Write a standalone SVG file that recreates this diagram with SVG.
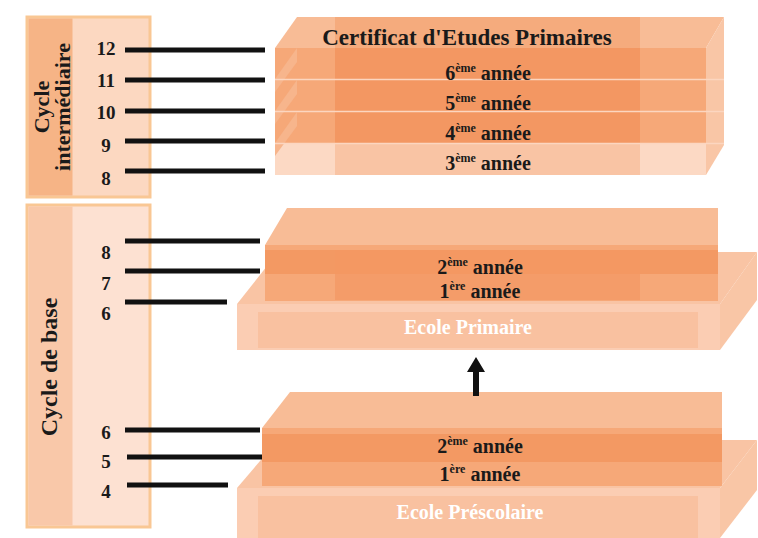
<svg xmlns="http://www.w3.org/2000/svg" width="758" height="538" viewBox="0 0 758 538">
<style>
text{font-family:"Liberation Serif","Times New Roman",serif;font-weight:bold;fill:#1a1a1a}
.num{font-size:19px;text-anchor:middle}
.yr{font-size:20px;text-anchor:middle}
.sup{font-size:12px}
.title{font-size:23px;text-anchor:middle}
.white{fill:#ffffff;font-size:20px;text-anchor:middle}
.side{font-size:22px;text-anchor:middle}
.top{fill:#f8bc96}
.front{fill:#f6a878}
.dark{fill:#f39762}
.lite{fill:#f9c4a4}
.pale{fill:#fcd9c4}
.rside{fill:#f9c6a6}
.tick{stroke:#111;stroke-width:5;fill:none}
</style>
<rect width="758" height="538" fill="#ffffff"/>

<g id="panel-intermediaire">
<rect x="27" y="17" width="123" height="180" fill="#fcd8c1" stroke="#f9c794" stroke-width="3"/>
<rect x="28.5" y="18.5" width="44" height="177" fill="#f6b486"/>
<text class="side" transform="translate(49,107) rotate(-90)">Cycle</text>
<text class="side" transform="translate(70,107) rotate(-90)">intermédiaire</text>
</g>

<g id="panel-base">
<rect x="27" y="205" width="123" height="322" fill="#fde1d2" stroke="#f9c794" stroke-width="3"/>
<rect x="28.5" y="206.5" width="44" height="319" fill="#f9c8a9"/>
<text class="side" style="font-size:24px" transform="translate(57,367) rotate(-90)">Cycle de base</text>
</g>

<g id="ages">
<text class="num" x="106" y="55">12</text>
<text class="num" x="106" y="87">11</text>
<text class="num" x="106" y="119">10</text>
<text class="num" x="106" y="152">9</text>
<text class="num" x="106" y="185">8</text>
<text class="num" x="106" y="259">8</text>
<text class="num" x="106" y="290">7</text>
<text class="num" x="106" y="320">6</text>
<text class="num" x="106" y="439">6</text>
<text class="num" x="106" y="468">5</text>
<text class="num" x="106" y="498">4</text>
</g>

<g id="stack-primaire-superieur">
<polygon class="top" points="297,17 724,17 706,48 275,48"/>
<rect x="335" y="17" width="305" height="31" fill="#f5ab7d"/>
<rect class="front" x="275" y="48" width="431" height="31"/>
<rect class="front" x="275" y="80" width="431" height="31"/>
<rect class="front" x="275" y="112" width="431" height="31"/>
<rect class="pale" x="275" y="144" width="431" height="31"/>
<rect class="dark" x="335" y="48" width="305" height="31"/>
<rect class="dark" x="335" y="80" width="305" height="31"/>
<rect class="dark" x="335" y="112" width="305" height="31"/>
<rect class="lite" x="335" y="144" width="305" height="31"/>
<polygon fill="#f7b58c" points="275,79 297,48 297,62 275,92"/>
<polygon fill="#f7b58c" points="275,111 297,80 297,94 275,124"/>
<polygon fill="#f7b58c" points="275,143 297,112 297,126 275,156"/>
<polygon class="rside" points="706,48 724,17 724,145 706,175"/>
<line x1="275" y1="79.5" x2="724" y2="79.5" stroke="#fcd6c0" stroke-width="1.5"/>
<line x1="275" y1="111.5" x2="724" y2="111.5" stroke="#fcd6c0" stroke-width="1.5"/>
<line x1="275" y1="143.5" x2="724" y2="143.5" stroke="#fcd6c0" stroke-width="1.5"/>
<text class="title" x="467" y="45">Certificat d'Etudes Primaires</text>
<text class="yr" x="488" y="80">6<tspan class="sup" dy="-8">ème</tspan><tspan dy="8"> année</tspan></text>
<text class="yr" x="488" y="110">5<tspan class="sup" dy="-8">ème</tspan><tspan dy="8"> année</tspan></text>
<text class="yr" x="488" y="140">4<tspan class="sup" dy="-8">ème</tspan><tspan dy="8"> année</tspan></text>
<text class="yr" x="488" y="170">3<tspan class="sup" dy="-8">ème</tspan><tspan dy="8"> année</tspan></text>
</g>

<g id="ecole-primaire">
<polygon class="lite" points="278,252 757,252 720,304 237,304"/>
<polygon class="top" points="287,208 718,208 718,245 265,245"/>
<rect class="front" x="265" y="245" width="453" height="56"/>
<rect fill="#f29055" x="265" y="250" width="453" height="24" opacity="0.6"/>
<rect class="dark" x="335" y="250" width="305" height="50" opacity="0.7"/>
<rect fill="#fbcdb3" x="237" y="304" width="483" height="46"/>
<rect fill="#f9c1a0" x="258" y="312" width="440" height="36"/>
<polygon class="rside" points="720,304 757,252 757,300 720,350"/>
<text class="yr" x="480" y="274">2<tspan class="sup" dy="-8">ème</tspan><tspan dy="8"> année</tspan></text>
<text class="yr" x="480" y="298">1<tspan class="sup" dy="-8">ère</tspan><tspan dy="8"> année</tspan></text>
<text class="white" x="468" y="334">Ecole Primaire</text>
</g>

<g id="ecole-prescolaire">
<polygon class="lite" points="278,440 757,440 720,488 237,488"/>
<polygon class="top" points="290,392 722,392 722,428 262,428"/>
<rect class="front" x="262" y="428" width="460" height="58"/>
<rect fill="#f29055" x="262" y="434" width="460" height="28" opacity="0.6"/>
<rect fill="#fbcdb3" x="237" y="488" width="483" height="50"/>
<rect fill="#f9c1a0" x="258" y="496" width="440" height="42"/>
<polygon class="rside" points="720,488 757,440 757,490 720,538"/>
<text class="yr" x="480" y="453">2<tspan class="sup" dy="-8">ème</tspan><tspan dy="8"> année</tspan></text>
<text class="yr" x="480" y="481">1<tspan class="sup" dy="-8">ère</tspan><tspan dy="8"> année</tspan></text>
<text class="white" x="470" y="519">Ecole Préscolaire</text>
</g>

<g id="connectors">
<line class="tick" x1="125" y1="50" x2="265" y2="50"/>
<line class="tick" x1="125" y1="80" x2="265" y2="80"/>
<line class="tick" x1="125" y1="111" x2="265" y2="111"/>
<line class="tick" x1="125" y1="141" x2="265" y2="141"/>
<line class="tick" x1="125" y1="171" x2="265" y2="171"/>
<line class="tick" x1="125" y1="241" x2="260" y2="241"/>
<line class="tick" x1="125" y1="271" x2="260" y2="271"/>
<line class="tick" x1="125" y1="302" x2="227" y2="302"/>
<line class="tick" x1="125" y1="430" x2="260" y2="430"/>
<line class="tick" x1="127" y1="457" x2="262" y2="457"/>
<line class="tick" x1="127" y1="485" x2="228" y2="485"/>
<polygon points="473,396 479,396 479,372 485,372 476,357 467,372 473,372" fill="#111"/>
</g>
</svg>
